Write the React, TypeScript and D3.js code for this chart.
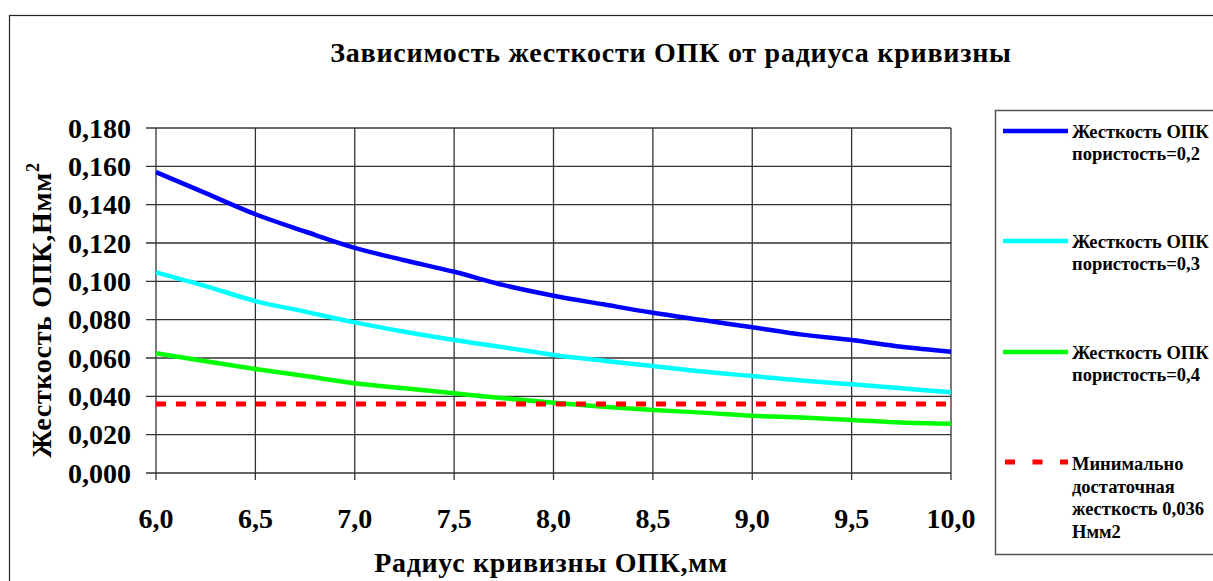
import React from "react";
import * as d3 from "d3";

const radius = [6.0, 6.25, 6.5, 6.75, 7.0, 7.25, 7.5, 7.75, 8.0, 8.25, 8.5, 8.75, 9.0, 9.25, 9.5, 9.75, 10.0];
const porosity02 = [0.157, 0.146, 0.135, 0.126, 0.1175, 0.111, 0.105, 0.098, 0.0925, 0.088, 0.0836, 0.0798, 0.076, 0.0722, 0.0694, 0.0659, 0.0633];
const porosity03 = [0.1047, 0.0975, 0.0897, 0.0842, 0.0786, 0.0737, 0.0694, 0.0656, 0.0616, 0.0586, 0.0558, 0.0529, 0.0506, 0.0482, 0.0463, 0.0442, 0.0421];
const porosity04 = [0.0625, 0.0583, 0.0543, 0.0506, 0.0468, 0.0442, 0.0416, 0.039, 0.0367, 0.0346, 0.0329, 0.0315, 0.0299, 0.0289, 0.0277, 0.0263, 0.0257];
const minStiffness = 0.036;
const xTicks = [6.0, 6.5, 7.0, 7.5, 8.0, 8.5, 9.0, 9.5, 10.0];
const yTicks = [0, 0.02, 0.04, 0.06, 0.08, 0.1, 0.12, 0.14, 0.16, 0.18];

const title = "Зависимость жесткости ОПК от радиуса кривизны";
const xTitle = "Радиус кривизны ОПК,мм";
const yTitle = "Жесткость ОПК,Нмм";

const series = [
  { name: ["Жесткость ОПК", "пористость=0,2"], values: porosity02, color: "#0000ff" },
  { name: ["Жесткость ОПК", "пористость=0,3"], values: porosity03, color: "#00ffff" },
  { name: ["Жесткость ОПК", "пористость=0,4"], values: porosity04, color: "#00ff00" },
];
const minLabel = ["Минимально", "достаточная", "жесткость 0,036", "Нмм2"];

const FONT = "'Liberation Serif', 'Times New Roman', serif";

export default function App() {
  const left = 156, right = 951, top = 128, bottom = 473;
  const x = d3.scaleLinear().domain([6, 10]).range([left, right]);
  const y = d3.scaleLinear().domain([0, 0.18]).range([bottom, top]);
  const line = d3
    .line<number>()
    .x((_, i) => x(radius[i]))
    .y((d) => y(d))
    .curve(d3.curveMonotoneX);

  const fmtY = (v: number) => d3.format(".3f")(v).replace(".", ",");
  const fmtX = (v: number) => d3.format(".1f")(v).replace(".", ",");

  const legendY = [131, 241, 352, 462];

  return (
    <svg
      width={1213}
      height={581}
      style={{ position: "absolute", left: 0, top: 0, background: "#fff" }}
      fontFamily={FONT}
    >
      <rect x={0} y={0} width={1213} height={581} fill="#fff" />
      <rect x={9.5} y={15.5} width={1230} height={600} fill="none" stroke="#222" strokeWidth={1.2} />
      <text x={671} y={62} textAnchor="middle" fontSize={28} fontWeight="bold" letterSpacing={0.75}>
        {title}
      </text>

      {/* grid */}
      {yTicks.map((t) => (
        <line key={"gy" + t} x1={left - 10} x2={right} y1={y(t)} y2={y(t)} stroke="#333" strokeWidth={1.3} />
      ))}
      {xTicks.map((t) => (
        <line key={"gx" + t} x1={x(t)} x2={x(t)} y1={top} y2={bottom + 7} stroke="#333" strokeWidth={1.3} />
      ))}

      {/* tick labels */}
      {yTicks.map((t) => (
        <text key={"ty" + t} x={131} y={y(t) + 9.5} textAnchor="end" fontSize={28} fontWeight="bold">
          {fmtY(t)}
        </text>
      ))}
      {xTicks.map((t) => (
        <text key={"tx" + t} x={x(t)} y={528} textAnchor="middle" fontSize={28} fontWeight="bold">
          {fmtX(t)}
        </text>
      ))}

      {/* series */}
      {series.map((s) => (
        <path key={s.color} d={line(s.values) || ""} fill="none" stroke={s.color} strokeWidth={4.5} strokeLinejoin="round" />
      ))}
      <line
        x1={x(6)}
        x2={x(10)}
        y1={y(minStiffness)}
        y2={y(minStiffness)}
        stroke="#ff0000"
        strokeWidth={5}
        strokeDasharray="10 10"
      />

      {/* axis titles */}
      <text x={551} y={572} textAnchor="middle" fontSize={28} fontWeight="bold" letterSpacing={0.7}>
        {xTitle}
      </text>
      <text transform="translate(51,310) rotate(-90)" textAnchor="middle" fontSize={28} fontWeight="bold" letterSpacing={0.7}>
        {yTitle}
        <tspan dy={-12} fontSize={18}>2</tspan>
      </text>

      {/* legend */}
      <rect x={995.5} y={110.5} width={240} height={444} fill="#fff" stroke="#555" strokeWidth={1.5} />
      {series.map((s, i) => (
        <g key={"lg" + i}>
          <line x1={1003} x2={1068} y1={legendY[i]} y2={legendY[i]} stroke={s.color} strokeWidth={4.5} />
          {s.name.map((n, j) => (
            <text key={j} x={1072} y={legendY[i] + 7 + j * 22} fontSize={18.5} fontWeight="bold">
              {n}
            </text>
          ))}
        </g>
      ))}
      <line x1={1005} x2={1068} y1={legendY[3]} y2={legendY[3]} stroke="#ff0000" strokeWidth={5} strokeDasharray="10 17.5" />
      {minLabel.map((n, j) => (
        <text key={"ml" + j} x={1072} y={legendY[3] + 8 + j * 22.5} fontSize={18.5} fontWeight="bold">
          {n}
        </text>
      ))}
    </svg>
  );
}
